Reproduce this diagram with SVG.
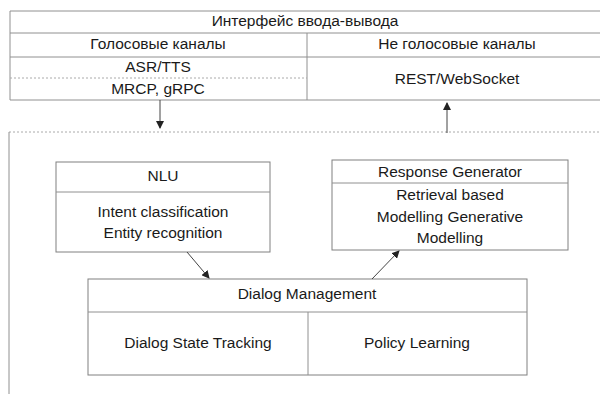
<svg xmlns="http://www.w3.org/2000/svg" width="600" height="394" viewBox="0 0 600 394">
<defs>
<style>
text{font-family:"Liberation Sans",Arial,sans-serif;font-size:15.5px;fill:#1a1a1a;text-anchor:middle;dominant-baseline:middle}
.b{fill:#fff;stroke:#808080;stroke-width:1}
.l{stroke:#909090;stroke-width:1;fill:none}
.d{stroke:#aaa;stroke-width:1;fill:none;stroke-dasharray:2 2}
.c{stroke:#444;stroke-width:1;fill:none;marker-end:url(#ah)}
</style>
<marker id="ah" markerWidth="8" markerHeight="8" refX="7" refY="4" orient="auto" markerUnits="userSpaceOnUse">
<path d="M0,0 L8,4 L0,8 Z" fill="#222"/>
</marker>
</defs>
<rect width="600" height="394" fill="#fff"/>
<g id="io">
<path class="l" d="M10,11 H600 M10,33 H600 M10,57 H600 M10,100 H600 M10,11 V100 M307,33 V100"/>
<path class="d" d="M10,78 H307"/>
<text x="305" y="22">Интерфейс ввода-вывода</text>
<text x="158" y="45">Голосовые каналы</text>
<text x="457" y="45">Не голосовые каналы</text>
<text x="158" y="68">ASR/TTS</text>
<text x="158" y="90">MRCP, gRPC</text>
<text x="457" y="80">REST/WebSocket</text>
</g>
<g id="system">
<path class="d" d="M9,132 H600"/>
<path class="l" d="M9,132 V394"/>
</g>
<g id="nlu">
<rect class="b" x="56" y="162" width="214" height="90"/>
<path class="l" d="M56,192 H270"/>
<text x="163" y="177">NLU</text>
<text x="163" y="213">Intent classification</text>
<text x="163" y="234">Entity recognition</text>
</g>
<g id="rg">
<rect class="b" x="332" y="160" width="236" height="90"/>
<path class="l" d="M332,183 H568"/>
<text x="450" y="173">Response Generator</text>
<text x="450" y="196">Retrieval based</text>
<text x="450" y="218">Modelling Generative</text>
<text x="450" y="239">Modelling</text>
</g>
<g id="dm">
<rect class="b" x="88" y="279" width="439" height="96"/>
<path class="l" d="M88,312 H527 M308,312 V375"/>
<text x="307" y="295">Dialog Management</text>
<text x="198" y="344">Dialog State Tracking</text>
<text x="417" y="344">Policy Learning</text>
</g>
<g id="connectors">
<path class="c" d="M160,100 V128"/>
<path class="c" d="M447,133 V103"/>
<path class="c" d="M187,252 L209,278"/>
<path class="c" d="M372,279 L399,251"/>
</g>
</svg>
